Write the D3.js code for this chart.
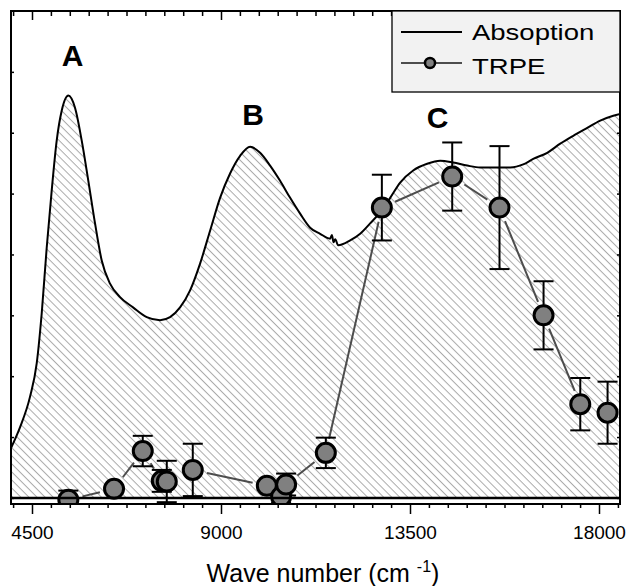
<!DOCTYPE html>
<html lang="en">
<head>
<meta charset="UTF-8">
<title>Absorption and TRPE spectrum</title>
<script src="https://d3js.org/d3.v7.min.js"></script>
<style>
  body { margin: 0; background: #fff; }
  svg { display: block; font-family: "Liberation Sans", Arial, sans-serif; }
</style>
</head>
<body>
<svg width="627" height="586"></svg>
<script>
// absorption spectrum
const absWave = [4000, 4214, 4452, 4612, 4731, 4850, 4969, 5088, 5207, 5365, 5524, 5684, 5841, 6001, 6160, 6358,
  6596, 6906, 7232, 7549, 7787, 8025, 8264, 8502, 8740, 8978, 9216, 9455, 9693, 9931, 10169, 10407, 10646, 10884,
  11122, 11360, 11598, 11640, 11680, 11720, 11789, 12075, 12313, 12551, 12790, 13028, 13266, 13575, 13909, 14219,
  14528, 14862, 15171, 15481, 15886, 16196, 16434, 16767, 17077, 17387, 17720, 18030, 18340, 18506];
const absVal = [0.082, 0.116, 0.166, 0.221, 0.303, 0.411, 0.505, 0.587, 0.636, 0.661, 0.641, 0.587, 0.521, 0.451, 0.390, 0.352,
  0.330, 0.313, 0.297, 0.292, 0.297, 0.313, 0.341, 0.385, 0.439, 0.493, 0.533, 0.562, 0.577, 0.567, 0.546, 0.521, 0.493, 0.467,
  0.444, 0.434, 0.426, 0.432, 0.420, 0.425, 0.415, 0.423, 0.434, 0.451, 0.469, 0.493, 0.518, 0.538, 0.549, 0.554,
  0.551, 0.546, 0.543, 0.543, 0.543, 0.548, 0.557, 0.567, 0.582, 0.595, 0.608, 0.620, 0.628, 0.631];

// TRPE points with error bars
const trpeWave = [5365, 6453, 7137, 7590, 7709, 8328, 10091, 10431, 10550, 11496, 12830, 14505, 15631, 16680, 17554, 18204];
const trpeVal = [-0.003, 0.015, 0.077, 0.028, 0.027, 0.046, 0.020, 0.002, 0.022, 0.074, 0.477, 0.528, 0.477, 0.300, 0.154, 0.140];
const trpeErr = [0.015, 0.005, 0.025, 0.018, 0.034, 0.043, 0.007, 0.010, 0.018, 0.025, 0.054, 0.056, 0.101, 0.056, 0.043, 0.051];

// peak labels
const peakNames = ["A", "B", "C"];
const peakWave = [5465, 9764, 14159];
const peakVal = [0.710, 0.613, 0.608];

const majorTicks = [4500, 9000, 13500, 18000];
const legendNames = ["Absoption", "TRPE"];

const svg = d3.select("svg");
const m = {left: 11, right: 620, top: 11, bottom: 504};

const x = d3.scaleLinear().domain([4000, 18500]).range([m.left, m.right]);
const y = d3.scaleLinear().domain([-0.01, 0.8]).range([m.bottom, m.top]);

const defs = svg.append("defs");
defs.append("clipPath").attr("id", "plot")
  .append("rect").attr("x", m.left).attr("y", m.top)
  .attr("width", m.right - m.left).attr("height", m.bottom - m.top);

// diagonal hatch for the area under the absorption
defs.append("pattern")
  .attr("id", "hatch")
  .attr("patternUnits", "userSpaceOnUse")
  .attr("width", 10).attr("height", 5.7)
  .attr("patternTransform", "rotate(45)")
  .append("line")
  .attr("x1", 0).attr("y1", 0.5).attr("x2", 10).attr("y2", 0.5)
  .attr("stroke", "#aaa").attr("stroke-width", 1);

const abs = absWave.map((w, i) => ({w: w, v: absVal[i]}));
const trpe = trpeWave.map((w, i) => ({w: w, v: trpeVal[i], e: trpeErr[i]}));

const plot = svg.append("g").attr("clip-path", "url(#plot)");

plot.append("path")
  .datum(abs)
  .attr("fill", "url(#hatch)")
  .attr("d", d3.area().x(d => x(d.w)).y0(y(0)).y1(d => y(d.v)).curve(d3.curveMonotoneX));

plot.append("path")
  .datum(abs)
  .attr("fill", "none")
  .attr("stroke", "#000")
  .attr("stroke-width", 2)
  .attr("d", d3.line().x(d => x(d.w)).y(d => y(d.v)).curve(d3.curveMonotoneX));

// connecting segments, leaving a gap around each symbol
const r = 9.5, gap = r + 5;
for (let i = 0; i < trpe.length - 1; i++) {
  const x1 = x(trpe[i].w), y1 = y(trpe[i].v), x2 = x(trpe[i + 1].w), y2 = y(trpe[i + 1].v);
  const len = Math.hypot(x2 - x1, y2 - y1);
  if (len <= 2 * gap) continue;
  const ux = (x2 - x1) / len, uy = (y2 - y1) / len;
  plot.append("line")
    .attr("x1", x1 + ux * gap).attr("y1", y1 + uy * gap)
    .attr("x2", x2 - ux * gap).attr("y2", y2 - uy * gap)
    .attr("stroke", "#4d4d4d").attr("stroke-width", 2);
}

// error bars
const err = plot.selectAll(".err").data(trpe).join("g").attr("class", "err")
  .attr("stroke", "#000").attr("stroke-width", 2);
err.append("line")
  .attr("x1", d => x(d.w)).attr("x2", d => x(d.w))
  .attr("y1", d => y(d.v - d.e)).attr("y2", d => y(d.v + d.e));
err.append("line")
  .attr("x1", d => x(d.w) - 10).attr("x2", d => x(d.w) + 10)
  .attr("y1", d => y(d.v + d.e)).attr("y2", d => y(d.v + d.e));
err.append("line")
  .attr("x1", d => x(d.w) - 10).attr("x2", d => x(d.w) + 10)
  .attr("y1", d => y(d.v - d.e)).attr("y2", d => y(d.v - d.e));

plot.selectAll(".pt").data(trpe).join("circle").attr("class", "pt")
  .attr("cx", d => x(d.w)).attr("cy", d => y(d.v)).attr("r", r)
  .attr("fill", "#808080").attr("stroke", "#000").attr("stroke-width", 3);

// zero line
svg.append("line")
  .attr("x1", m.left).attr("x2", m.right).attr("y1", y(0)).attr("y2", y(0))
  .attr("stroke", "#000").attr("stroke-width", 2.5);

// axes
const minorTicks = d3.range(4050, 18500, 450).filter(t => !majorTicks.includes(t));
const yTicks = d3.range(0, 0.75, 0.1);

function styleAxis(g) {
  g.select(".domain").remove();
  g.selectAll(".tick line").attr("stroke-width", 1.5);
}

svg.append("g").attr("transform", `translate(0,${m.bottom})`)
  .call(d3.axisBottom(x).tickValues(minorTicks).tickSize(4).tickFormat(""))
  .call(styleAxis);
svg.append("g").attr("transform", `translate(0,${m.bottom})`)
  .call(d3.axisBottom(x).tickValues(majorTicks).tickSize(10).tickPadding(12).tickFormat(d3.format("d")))
  .call(styleAxis)
  .call(g => g.selectAll("text").attr("font-size", 19).attr("fill", "#000"))
  .attr("font-family", null);

svg.append("g").attr("transform", `translate(0,${m.top})`)
  .call(d3.axisTop(x).tickValues(minorTicks).tickSize(-5).tickFormat(""))
  .call(styleAxis);
svg.append("g").attr("transform", `translate(0,${m.top})`)
  .call(d3.axisTop(x).tickValues(majorTicks).tickSize(-9).tickFormat(""))
  .call(styleAxis);

svg.append("g").attr("transform", `translate(${m.left},0)`)
  .call(d3.axisLeft(y).tickValues(yTicks).tickSize(-3).tickFormat(""))
  .call(styleAxis);
svg.append("g").attr("transform", `translate(${m.right},0)`)
  .call(d3.axisRight(y).tickValues(yTicks).tickSize(-3).tickFormat(""))
  .call(styleAxis);

// frame
svg.append("rect")
  .attr("x", m.left).attr("y", m.top).attr("width", m.right - m.left).attr("height", m.bottom - m.top)
  .attr("fill", "none").attr("stroke", "#000").attr("stroke-width", 2);

// peak letters
svg.selectAll(".peak").data(peakNames).join("text").attr("class", "peak")
  .attr("x", (d, i) => x(peakWave[i])).attr("y", (d, i) => y(peakVal[i]))
  .attr("text-anchor", "middle").attr("font-size", 30).attr("font-weight", "bold")
  .text(d => d);

// axis title
const title = svg.append("text")
  .attr("x", 323).attr("y", 582)
  .attr("text-anchor", "middle").attr("font-size", 25);
title.append("tspan").text("Wave number (cm ");
title.append("tspan").attr("dy", -10).attr("font-size", 16).text("-1");
title.append("tspan").attr("dy", 10).text(")");

// legend
const lg = svg.append("g");
lg.append("rect")
  .attr("x", 392).attr("y", m.top).attr("width", m.right - 392).attr("height", 81)
  .attr("fill", "#f2f2f2").attr("stroke", "#000").attr("stroke-width", 1.3);
lg.append("line").attr("x1", 401).attr("x2", 462).attr("y1", 32).attr("y2", 32)
  .attr("stroke", "#000").attr("stroke-width", 2);
lg.append("line").attr("x1", 401).attr("x2", 462).attr("y1", 63).attr("y2", 63)
  .attr("stroke", "#4d4d4d").attr("stroke-width", 2);
lg.append("circle").attr("cx", 430).attr("cy", 63).attr("r", 5)
  .attr("fill", "#808080").attr("stroke", "#000").attr("stroke-width", 2.5);
legendNames.forEach((name, i) => {
  lg.append("text")
    .attr("transform", `translate(472,${40 + i * 34}) scale(1.25,1)`)
    .attr("font-size", 22)
    .text(name);
});
</script>
</body>
</html>
